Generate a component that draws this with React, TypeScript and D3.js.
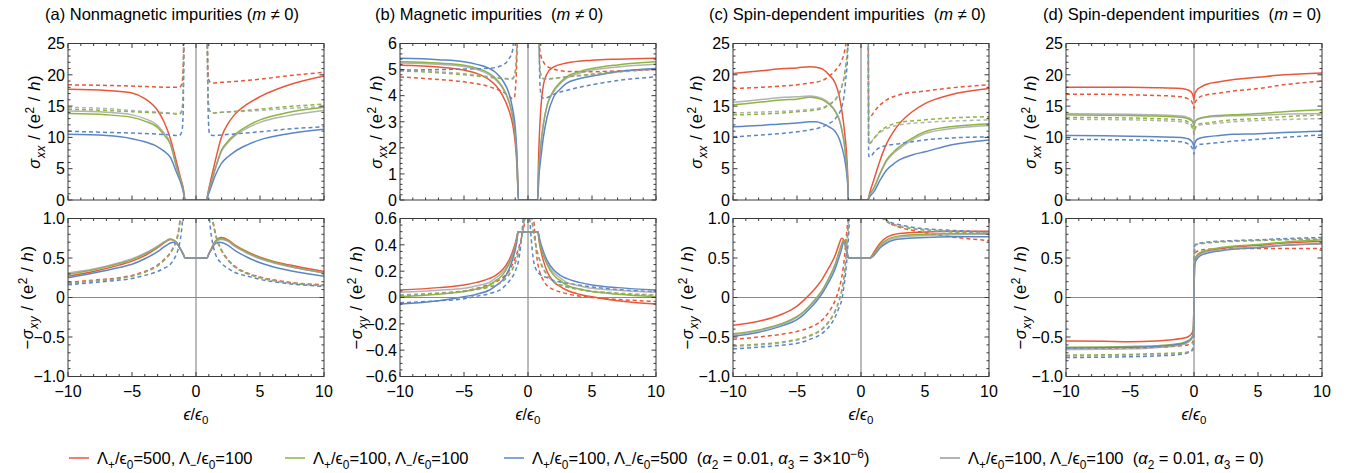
import React from "react";
import * as d3 from "d3";

type Pt = [number, number];

// ---------------- Panel (a): nonmagnetic, sigma_xx ----------------
const A_XX_R: Pt[] = [[-10,17.7],[-7,17.5],[-5,17.1],[-4,16.2],[-3,14.3],[-2.5,12.5],[-2,9.8],[-1.5,5.9],[-1.2,3.5],[-1,1.9],[-0.85,0],[0.8,0],[1,1.8],[1.2,3.6],[1.5,6.2],[2,10.1],[2.5,12.2],[3,13.6],[4,15.3],[5,16.5],[7,18.2],[10,19.8]];
const A_XX_G: Pt[] = [[-10,13.8],[-7,13.6],[-5,13.2],[-4,12.6],[-3,11.6],[-2.5,10.4],[-2,8.9],[-1.5,5.1],[-1.2,3.2],[-1,1.7],[-0.85,0],[0.8,0],[1,1.5],[1.2,2.9],[1.5,5.0],[2,8.0],[2.5,9.4],[3,10.4],[4,11.8],[5,12.8],[7,13.9],[10,14.8]];
const A_XX_B: Pt[] = [[-10,10.5],[-7,10.3],[-5,9.8],[-4,9.3],[-3,8.5],[-2.5,7.8],[-2,6.8],[-1.5,4.3],[-1.2,2.8],[-1,1.4],[-0.85,0],[0.8,0],[1,1.1],[1.2,2.2],[1.5,3.9],[2,5.9],[2.5,6.9],[3,7.7],[4,8.8],[5,9.6],[7,10.5],[10,11.3]];
const A_XX_K: Pt[] = [[-10,14.2],[-7,14.0],[-5,13.6],[-4,13.0],[-3,11.9],[-2.5,10.7],[-2,9.1],[-1.5,5.2],[-1.2,3.2],[-1,1.7],[-0.85,0],[0.8,0],[1,1.5],[1.2,2.9],[1.5,4.9],[2,7.8],[2.5,9.2],[3,10.2],[4,11.5],[5,12.4],[7,13.4],[10,14.3]];
const A_XX_RD: Pt[] = [[-10,18.4],[-7,18.3],[-5,18.2],[-2,18.0],[-1.3,18.0],[-1.1,18.6],[-1.0,21],[-0.93,28],[0.86,28],[0.92,21],[1.0,19.2],[1.2,18.7],[2,18.8],[5,19.3],[7,19.8],[10,20.4]];
const A_XX_GD: Pt[] = [[-10,14.5],[-7,14.3],[-5,14.1],[-2,13.8],[-1.3,13.7],[-1.1,14.3],[-1.0,17],[-0.93,28],[0.86,28],[0.93,17],[1.05,14.3],[1.3,13.9],[2,14.0],[5,14.5],[7,14.9],[10,15.3]];
const A_XX_BD: Pt[] = [[-10,11.0],[-7,10.8],[-5,10.7],[-2,10.4],[-1.3,10.3],[-1.1,11.0],[-1.0,14],[-0.93,28],[0.86,28],[0.95,14],[1.05,10.6],[1.3,10.3],[2,10.4],[5,10.9],[7,11.3],[10,11.7]];
const A_XX_KD: Pt[] = [[-10,14.8],[-7,14.6],[-5,14.3],[-2,13.9],[-1.3,13.8],[-1.1,14.4],[-1.0,17],[-0.93,28],[0.86,28],[0.93,17],[1.05,14.3],[1.3,13.9],[2,14.0],[5,14.3],[7,14.6],[10,14.9]];

// ---------------- Panel (a): sigma_xy ----------------
const A_XY_R: Pt[] = [[-10,0.27],[-8,0.33],[-6,0.41],[-5,0.46],[-4,0.53],[-3,0.63],[-2.5,0.69],[-2,0.735],[-1.7,0.72],[-1.5,0.69],[-1.2,0.61],[-1,0.55],[-0.85,0.5],[0.85,0.5],[1,0.55],[1.2,0.62],[1.5,0.71],[1.8,0.755],[2,0.76],[2.5,0.73],[3,0.67],[4,0.58],[5,0.51],[6,0.46],[8,0.39],[10,0.33]];
const A_XY_G: Pt[] = [[-10,0.29],[-8,0.35],[-6,0.43],[-5,0.48],[-4,0.55],[-3,0.64],[-2.5,0.70],[-2,0.74],[-1.7,0.72],[-1.5,0.69],[-1.2,0.61],[-1,0.55],[-0.85,0.5],[0.85,0.5],[1,0.55],[1.2,0.61],[1.5,0.70],[1.8,0.74],[2,0.745],[2.5,0.72],[3,0.66],[4,0.57],[5,0.50],[6,0.45],[8,0.37],[10,0.31]];
const A_XY_B: Pt[] = [[-10,0.25],[-8,0.31],[-6,0.38],[-5,0.42],[-4,0.49],[-3,0.58],[-2.5,0.64],[-2,0.69],[-1.8,0.70],[-1.5,0.68],[-1.2,0.61],[-1,0.55],[-0.85,0.5],[0.85,0.5],[1,0.55],[1.2,0.61],[1.5,0.68],[1.8,0.70],[2,0.695],[2.5,0.66],[3,0.60],[4,0.51],[5,0.44],[6,0.39],[8,0.32],[10,0.27]];
const A_XY_K: Pt[] = [[-10,0.31],[-8,0.36],[-6,0.44],[-5,0.49],[-4,0.56],[-3,0.65],[-2.5,0.70],[-2,0.74],[-1.7,0.72],[-1.5,0.69],[-1.2,0.61],[-1,0.55],[-0.85,0.5],[0.85,0.5],[1,0.55],[1.2,0.61],[1.5,0.69],[1.8,0.73],[2,0.735],[2.5,0.71],[3,0.65],[4,0.56],[5,0.49],[6,0.44],[8,0.37],[10,0.31]];
const A_XY_RD: Pt[] = [[-10,0.19],[-8,0.22],[-6,0.25],[-5,0.28],[-4,0.33],[-3,0.41],[-2.5,0.48],[-2,0.57],[-1.7,0.66],[-1.5,0.74],[-1.35,0.86],[-1.2,1.05],[-1.1,1.2],[1.1,1.2],[1.25,1.03],[1.4,0.9],[1.6,0.76],[2,0.6],[2.5,0.48],[3,0.40],[4,0.31],[5,0.26],[7,0.2],[10,0.16]];
const A_XY_GD: Pt[] = [[-10,0.18],[-8,0.21],[-6,0.24],[-5,0.27],[-4,0.32],[-3,0.40],[-2.5,0.47],[-2,0.56],[-1.7,0.65],[-1.5,0.73],[-1.35,0.85],[-1.2,1.04],[-1.1,1.2],[1.1,1.2],[1.25,1.02],[1.4,0.89],[1.6,0.75],[2,0.59],[2.5,0.47],[3,0.39],[4,0.30],[5,0.25],[7,0.19],[10,0.15]];
const A_XY_BD: Pt[] = [[-10,0.16],[-8,0.19],[-6,0.22],[-5,0.24],[-4,0.28],[-3,0.33],[-2.5,0.37],[-2,0.42],[-1.7,0.49],[-1.5,0.56],[-1.3,0.67],[-1.15,0.82],[-1.05,0.98],[-0.95,1.2],[0.95,1.2],[1.05,1.0],[1.15,0.84],[1.3,0.69],[1.5,0.56],[2,0.43],[2.5,0.37],[3,0.32],[4,0.27],[5,0.23],[7,0.18],[10,0.14]];
const A_XY_KD: Pt[] = [[-10,0.18],[-8,0.21],[-6,0.245],[-5,0.275],[-4,0.325],[-3,0.405],[-2.5,0.475],[-2,0.565],[-1.7,0.655],[-1.5,0.735],[-1.35,0.855],[-1.2,1.045],[-1.1,1.2],[1.1,1.2],[1.25,1.025],[1.4,0.895],[1.6,0.755],[2,0.595],[2.5,0.475],[3,0.395],[4,0.305],[5,0.255],[7,0.195],[10,0.155]];

// ---------------- Panel (b): magnetic, sigma_xx ----------------
const B_XX_R: Pt[] = [[-10,5.17],[-7,5.1],[-5,4.98],[-4,4.85],[-3,4.6],[-2.5,4.38],[-2,4.02],[-1.5,3.45],[-1.2,2.9],[-1,2.2],[-0.85,1.2],[-0.75,0],[0.75,0],[0.82,1.5],[0.9,2.6],[1.0,3.5],[1.2,4.4],[1.5,4.85],[2,5.1],[3,5.25],[5,5.36],[7,5.4],[10,5.43]];
const B_XX_G: Pt[] = [[-10,5.3],[-7,5.25],[-5,5.17],[-4,5.05],[-3,4.85],[-2.5,4.65],[-2,4.34],[-1.5,3.8],[-1.2,3.2],[-1,2.5],[-0.85,1.4],[-0.75,0],[0.75,0],[0.85,1.2],[1,2.1],[1.2,2.9],[1.5,3.65],[2,4.2],[2.5,4.5],[3,4.72],[4,4.92],[5,5.04],[7,5.18],[10,5.3]];
const B_XX_B: Pt[] = [[-10,5.43],[-7,5.38],[-5,5.3],[-4,5.2],[-3,5.04],[-2.5,4.88],[-2,4.6],[-1.5,4.1],[-1.2,3.5],[-1,2.8],[-0.85,1.6],[-0.75,0],[0.75,0],[0.85,0.9],[1,1.6],[1.2,2.4],[1.5,3.2],[2,3.95],[2.5,4.25],[3,4.47],[4,4.65],[5,4.75],[7,4.92],[10,5.04]];
const B_XX_K: Pt[] = [[-10,5.25],[-7,5.2],[-5,5.12],[-4,5.0],[-3,4.8],[-2.5,4.6],[-2,4.3],[-1.5,3.78],[-1.2,3.2],[-1,2.5],[-0.85,1.4],[-0.75,0],[0.75,0],[0.85,1.2],[1,2.1],[1.2,2.9],[1.5,3.62],[2,4.15],[2.5,4.45],[3,4.66],[4,4.86],[5,4.98],[7,5.1],[10,5.2]];
const B_XX_RD: Pt[] = [[-10,4.72],[-7,4.62],[-5,4.53],[-3,4.34],[-2,4.15],[-1.5,4.0],[-1.2,3.88],[-1.05,3.95],[-0.95,4.5],[-0.87,5.4],[-0.8,6.5],[0.82,6.5],[0.9,5.85],[1.0,5.55],[1.2,5.3],[1.5,5.12],[2,5.02],[3,4.93],[5,4.92],[7,4.95],[10,5.0]];
const B_XX_GD: Pt[] = [[-10,4.95],[-7,4.88],[-5,4.8],[-3,4.7],[-2,4.66],[-1.5,4.63],[-1.2,4.65],[-1.0,4.9],[-0.9,5.5],[-0.83,6.5],[0.83,6.5],[0.9,5.3],[1.0,4.8],[1.2,4.65],[1.5,4.64],[2,4.66],[3,4.72],[5,4.83],[7,4.93],[10,5.03]];
const B_XX_BD: Pt[] = [[-10,4.98],[-7,5.0],[-5,5.02],[-3,5.05],[-2,5.17],[-1.5,5.4],[-1.2,5.75],[-1.05,6.5],[0.85,6.5],[0.9,5.0],[0.97,4.2],[1.1,3.92],[1.3,3.9],[1.6,3.95],[2,4.05],[3,4.2],[5,4.42],[7,4.58],[10,4.72]];
const B_XX_KD: Pt[] = [[-10,5.0],[-7,4.92],[-5,4.84],[-3,4.73],[-2,4.68],[-1.5,4.65],[-1.2,4.67],[-1.0,4.92],[-0.9,5.5],[-0.83,6.5],[0.83,6.5],[0.9,5.3],[1.0,4.8],[1.2,4.66],[1.5,4.65],[2,4.67],[3,4.72],[5,4.8],[7,4.9],[10,5.0]];

// ---------------- Panel (b): sigma_xy ----------------
const B_XY_R: Pt[] = [[-10,0.057],[-7,0.075],[-5,0.095],[-4,0.115],[-3,0.145],[-2.5,0.17],[-2,0.21],[-1.5,0.28],[-1.2,0.35],[-1,0.41],[-0.85,0.47],[-0.78,0.5],[0.78,0.5],[0.85,0.44],[1,0.36],[1.2,0.28],[1.5,0.196],[2,0.12],[2.5,0.085],[3,0.057],[4,0.025],[5,0.006],[7,-0.025],[10,-0.05]];
const B_XY_G: Pt[] = [[-10,0.006],[-7,0.025],[-5,0.045],[-4,0.065],[-3,0.095],[-2.5,0.13],[-2,0.17],[-1.5,0.25],[-1.2,0.32],[-1,0.385],[-0.85,0.45],[-0.78,0.5],[0.78,0.5],[0.85,0.45],[1,0.385],[1.2,0.32],[1.5,0.25],[2,0.17],[2.5,0.13],[3,0.095],[4,0.065],[5,0.045],[7,0.025],[10,0.006]];
const B_XY_B: Pt[] = [[-10,-0.05],[-7,-0.025],[-5,0.006],[-4,0.025],[-3,0.057],[-2.5,0.09],[-2,0.13],[-1.5,0.21],[-1.2,0.29],[-1,0.36],[-0.85,0.44],[-0.78,0.5],[0.78,0.5],[0.85,0.47],[1,0.41],[1.2,0.35],[1.5,0.28],[2,0.21],[2.5,0.17],[3,0.145],[4,0.115],[5,0.095],[7,0.075],[10,0.057]];
const B_XY_K: Pt[] = [[-10,0.04],[-7,0.055],[-5,0.07],[-4,0.09],[-3,0.115],[-2.5,0.15],[-2,0.19],[-1.5,0.26],[-1.2,0.33],[-1,0.39],[-0.85,0.46],[-0.78,0.5],[0.78,0.5],[0.85,0.46],[1,0.39],[1.2,0.33],[1.5,0.26],[2,0.19],[2.5,0.15],[3,0.115],[4,0.09],[5,0.07],[7,0.055],[10,0.04]];
const B_XY_RD: Pt[] = [[-10,0.01],[-7,0.03],[-5,0.05],[-4,0.07],[-3,0.1],[-2,0.15],[-1.5,0.2],[-1,0.3],[-0.6,0.42],[-0.3,0.55],[-0.1,0.68],[0.3,0.7],[0.45,0.6],[0.55,0.46],[0.7,0.3],[0.9,0.2],[1.2,0.13],[1.5,0.09],[2,0.06],[3,0.03],[5,0.0],[7,-0.015],[10,-0.03]];
const B_XY_GD: Pt[] = [[-10,0.015],[-7,0.03],[-5,0.045],[-4,0.06],[-3,0.08],[-2,0.12],[-1.5,0.17],[-1,0.26],[-0.6,0.4],[-0.35,0.55],[-0.2,0.68],[0.2,0.68],[0.35,0.55],[0.6,0.4],[1,0.26],[1.5,0.17],[2,0.12],[3,0.08],[4,0.06],[5,0.045],[7,0.03],[10,0.015]];
const B_XY_BD: Pt[] = [[-10,-0.04],[-7,-0.025],[-5,-0.01],[-4,0.01],[-3,0.03],[-2,0.07],[-1.5,0.12],[-1,0.2],[-0.7,0.3],[-0.5,0.46],[-0.38,0.6],[-0.3,0.7],[0.05,0.7],[0.15,0.58],[0.25,0.45],[0.4,0.3],[0.6,0.22],[1,0.17],[1.5,0.15],[2,0.13],[3,0.11],[5,0.08],[7,0.06],[10,0.045]];
const B_XY_KD: Pt[] = [[-10,0.02],[-7,0.035],[-5,0.05],[-4,0.065],[-3,0.085],[-2,0.125],[-1.5,0.175],[-1,0.265],[-0.6,0.405],[-0.35,0.555],[-0.2,0.68],[0.2,0.68],[0.35,0.555],[0.6,0.405],[1,0.265],[1.5,0.175],[2,0.125],[3,0.085],[4,0.065],[5,0.05],[7,0.035],[10,0.02]];

// ---------------- Panel (c): spin-dependent m != 0, sigma_xx ----------------
const C_XX_R: Pt[] = [[-10,20.2],[-8,20.6],[-6,21.0],[-5,21.1],[-4,21.3],[-3.5,21.2],[-3,20.9],[-2.5,20.0],[-2,18.6],[-1.7,16.6],[-1.5,14.3],[-1.3,11.2],[-1.15,8.0],[-1.05,4.5],[-0.98,0],[0.52,0],[0.7,1.3],[1,3.2],[1.5,6.4],[2,9.0],[2.5,10.8],[3,12.2],[4,14.1],[5,15.4],[7,16.8],[10,17.8]];
const C_XX_G: Pt[] = [[-10,15.2],[-8,15.6],[-6,16.0],[-5,16.1],[-4,16.4],[-3.5,16.3],[-3,16.0],[-2.5,15.3],[-2,14.1],[-1.7,12.8],[-1.5,11.2],[-1.3,8.9],[-1.15,6.2],[-1.05,3.5],[-0.98,0],[0.52,0],[0.7,0.9],[1,1.9],[1.5,4.3],[2,6.4],[2.5,7.6],[3,8.5],[4,9.9],[5,10.9],[7,11.7],[10,12.2]];
const C_XX_B: Pt[] = [[-10,11.7],[-8,11.9],[-6,12.2],[-5,12.3],[-4,12.5],[-3.5,12.5],[-3,12.2],[-2.5,11.7],[-2,10.9],[-1.7,9.8],[-1.5,8.5],[-1.3,6.8],[-1.15,4.8],[-1.05,2.8],[-0.98,0],[0.52,0],[0.7,0.6],[1,1.3],[1.5,3.2],[2,4.8],[2.5,5.7],[3,6.4],[4,7.2],[5,7.7],[7,8.8],[10,9.6]];
const C_XX_K: Pt[] = [[-10,15.6],[-8,16.0],[-6,16.4],[-5,16.5],[-4,16.6],[-3.5,16.5],[-3,16.2],[-2.5,15.5],[-2,14.2],[-1.7,12.9],[-1.5,11.3],[-1.3,9.0],[-1.15,6.2],[-1.05,3.5],[-0.98,0],[0.52,0],[0.7,0.9],[1,1.9],[1.5,4.2],[2,6.2],[2.5,7.4],[3,8.2],[4,9.6],[5,10.6],[7,11.4],[10,11.9]];
const C_XX_RD: Pt[] = [[-10,17.8],[-7,18.1],[-5,18.4],[-4,18.7],[-3,19.1],[-2.5,19.8],[-2,20.7],[-1.5,22.3],[-1.3,23.6],[-1.15,25.5],[-1.05,28],[0.56,28],[0.6,13.0],[0.8,13.4],[1,14.0],[1.5,15.2],[2,16.0],[3,16.8],[5,17.4],[7,17.9],[10,18.4]];
const C_XX_GD: Pt[] = [[-10,13.6],[-7,13.8],[-5,14.1],[-3,14.6],[-2.5,15.2],[-2,16.0],[-1.5,18.1],[-1.3,19.8],[-1.2,21.3],[-1.05,24.5],[-1.0,28],[0.56,28],[0.6,9.0],[0.8,9.2],[1,9.8],[1.5,11.0],[2,11.7],[3,12.4],[5,12.8],[7,13.1],[10,13.3]];
const C_XX_BD: Pt[] = [[-10,10.1],[-7,10.5],[-5,10.9],[-3,11.7],[-2.5,12.2],[-2,13.0],[-1.5,14.9],[-1.3,17],[-1.2,19.1],[-1.05,23],[-0.98,28],[0.56,28],[0.6,7.0],[0.75,6.9],[1,7.6],[1.5,8.4],[2,8.7],[3,9.0],[5,9.6],[7,9.9],[10,10.1]];
const C_XX_KD: Pt[] = [[-10,13.9],[-7,14.1],[-5,14.3],[-3,14.8],[-2.5,15.3],[-2,16.1],[-1.5,18.2],[-1.3,19.9],[-1.2,21.4],[-1.05,24.6],[-1.0,28],[0.56,28],[0.6,9.1],[0.8,9.3],[1,9.8],[1.5,10.8],[2,11.4],[3,12.0],[5,12.4],[7,12.6],[10,12.8]];

// ---------------- Panel (c): sigma_xy ----------------
const C_XY_R: Pt[] = [[-10,-0.35],[-8,-0.3],[-7,-0.26],[-6,-0.2],[-5,-0.11],[-4.5,-0.04],[-4,0.04],[-3.5,0.13],[-3,0.24],[-2.5,0.38],[-2,0.54],[-1.75,0.66],[-1.5,0.75],[-1.35,0.73],[-1.2,0.65],[-1.05,0.53],[-0.98,0.5],[0.7,0.5],[0.85,0.53],[1,0.57],[1.5,0.69],[2,0.76],[3,0.81],[5,0.83],[7,0.84],[10,0.84]];
const C_XY_G: Pt[] = [[-10,-0.46],[-8,-0.41],[-7,-0.37],[-6,-0.32],[-5,-0.24],[-4.5,-0.18],[-4,-0.1],[-3.5,-0.01],[-3,0.1],[-2.5,0.25],[-2,0.43],[-1.75,0.56],[-1.5,0.68],[-1.4,0.72],[-1.25,0.68],[-1.1,0.57],[-0.98,0.5],[0.7,0.5],[0.85,0.52],[1,0.55],[1.5,0.66],[2,0.73],[3,0.78],[5,0.8],[7,0.81],[10,0.81]];
const C_XY_B: Pt[] = [[-10,-0.49],[-8,-0.44],[-7,-0.4],[-6,-0.35],[-5,-0.28],[-4.5,-0.22],[-4,-0.14],[-3.5,-0.05],[-3,0.06],[-2.5,0.2],[-2,0.37],[-1.75,0.49],[-1.5,0.62],[-1.35,0.7],[-1.2,0.67],[-1.07,0.56],[-0.98,0.5],[0.7,0.5],[0.85,0.51],[1,0.53],[1.5,0.63],[2,0.69],[3,0.74],[5,0.76],[7,0.77],[10,0.77]];
const C_XY_K: Pt[] = [[-10,-0.47],[-8,-0.42],[-7,-0.38],[-6,-0.33],[-5,-0.25],[-4.5,-0.19],[-4,-0.11],[-3.5,-0.02],[-3,0.09],[-2.5,0.24],[-2,0.42],[-1.75,0.54],[-1.5,0.67],[-1.38,0.71],[-1.22,0.67],[-1.08,0.56],[-0.98,0.5],[0.7,0.5],[0.85,0.515],[1,0.54],[1.5,0.645],[2,0.71],[3,0.765],[5,0.785],[7,0.795],[10,0.8]];
const C_XY_RD: Pt[] = [[-10,-0.53],[-8,-0.5],[-6,-0.46],[-5,-0.43],[-4,-0.38],[-3,-0.28],[-2.5,-0.18],[-2,-0.03],[-1.7,0.12],[-1.5,0.26],[-1.3,0.5],[-1.2,0.68],[-1.1,0.85],[-1.0,1.05],[-0.95,1.2],[1.7,1.2],[1.9,1.0],[2.2,0.95],[3,0.89],[4,0.85],[5,0.82],[7,0.77],[10,0.72]];
const C_XY_GD: Pt[] = [[-10,-0.61],[-8,-0.59],[-6,-0.56],[-5,-0.53],[-4,-0.48],[-3,-0.39],[-2.5,-0.3],[-2,-0.16],[-1.7,-0.03],[-1.5,0.09],[-1.3,0.3],[-1.2,0.47],[-1.05,0.8],[-0.95,1.05],[-0.9,1.2],[1.2,1.2],[1.5,1.05],[2,0.96],[3,0.9],[4,0.87],[5,0.85],[7,0.83],[10,0.81]];
const C_XY_BD: Pt[] = [[-10,-0.65],[-8,-0.63],[-6,-0.6],[-5,-0.58],[-4,-0.53],[-3,-0.45],[-2.5,-0.37],[-2,-0.24],[-1.7,-0.12],[-1.5,-0.03],[-1.3,0.18],[-1.2,0.31],[-1.05,0.6],[-0.95,0.85],[-0.85,1.2],[1.2,1.2],[1.5,1.06],[2,0.98],[3,0.92],[4,0.89],[5,0.87],[7,0.85],[10,0.83]];
const C_XY_KD: Pt[] = [[-10,-0.62],[-8,-0.6],[-6,-0.57],[-5,-0.54],[-4,-0.49],[-3,-0.4],[-2.5,-0.31],[-2,-0.17],[-1.7,-0.04],[-1.5,0.08],[-1.3,0.29],[-1.2,0.46],[-1.05,0.79],[-0.95,1.04],[-0.9,1.2],[1.2,1.2],[1.5,1.05],[2,0.97],[3,0.91],[4,0.88],[5,0.86],[7,0.84],[10,0.82]];

// ---------------- Panel (d): spin-dependent m = 0, sigma_xx ----------------
const D_XX_R: Pt[] = [[-10,18.0],[-7,18.0],[-5,18.0],[-3,17.95],[-1,17.8],[-0.5,17.6],[-0.2,17.2],[-0.05,16.5],[0,16.0],[0.05,16.8],[0.2,17.5],[0.5,18.0],[1,18.5],[2,18.9],[3,19.2],[5,19.6],[7,20.0],[10,20.3]];
const D_XX_G: Pt[] = [[-10,13.6],[-7,13.55],[-5,13.5],[-3,13.4],[-1,13.2],[-0.5,13.0],[-0.2,12.7],[-0.05,12.2],[0,11.8],[0.05,12.3],[0.2,12.8],[0.5,13.1],[1,13.3],[2,13.5],[3,13.6],[5,13.8],[7,14.1],[10,14.4]];
const D_XX_B: Pt[] = [[-10,10.3],[-7,10.25],[-5,10.2],[-3,10.1],[-1,10.0],[-0.5,9.8],[-0.2,9.4],[-0.05,8.8],[0,8.3],[0.05,9.0],[0.2,9.6],[0.5,9.9],[1,10.1],[2,10.3],[3,10.5],[5,10.6],[7,10.8],[10,11.0]];
const D_XX_K: Pt[] = [[-10,13.8],[-7,13.75],[-5,13.7],[-3,13.6],[-1,13.4],[-0.5,13.2],[-0.2,12.9],[-0.05,12.4],[0,12.0],[0.05,12.4],[0.2,12.8],[0.5,13.0],[1,13.2],[2,13.35],[3,13.45],[5,13.55],[7,13.7],[10,13.8]];
const D_XX_RD: Pt[] = [[-10,16.9],[-7,16.9],[-5,16.8],[-3,16.7],[-1,16.5],[-0.5,16.2],[-0.2,15.8],[-0.05,15.0],[0,14.6],[0.05,15.4],[0.2,16.0],[0.5,16.5],[1,16.8],[2,17.1],[3,17.4],[5,17.8],[7,18.4],[10,19.0]];
const D_XX_GD: Pt[] = [[-10,13.2],[-7,13.15],[-5,13.1],[-3,13.0],[-1,12.8],[-0.5,12.5],[-0.2,12.0],[-0.05,11.2],[0,10.6],[0.05,11.3],[0.2,11.9],[0.5,12.2],[1,12.3],[2,12.6],[3,12.8],[5,13.0],[7,13.3],[10,13.6]];
const D_XX_BD: Pt[] = [[-10,9.7],[-7,9.65],[-5,9.6],[-3,9.5],[-1,9.3],[-0.5,9.0],[-0.2,8.5],[-0.05,7.8],[0,7.3],[0.05,8.0],[0.2,8.6],[0.5,8.9],[1,9.0],[2,9.2],[3,9.4],[5,9.7],[7,10.0],[10,10.4]];
const D_XX_KD: Pt[] = [[-10,12.9],[-7,12.85],[-5,12.8],[-3,12.7],[-1,12.5],[-0.5,12.2],[-0.2,11.7],[-0.05,11.0],[0,10.4],[0.05,11.1],[0.2,11.7],[0.5,12.0],[1,12.1],[2,12.3],[3,12.5],[5,12.7],[7,12.85],[10,13.0]];

// ---------------- Panel (d): sigma_xy ----------------
const D_XY_R: Pt[] = [[-10,-0.55],[-7,-0.555],[-5,-0.56],[-3,-0.55],[-1,-0.52],[-0.5,-0.5],[-0.2,-0.46],[-0.05,-0.4],[0,0],[0.05,0.45],[0.2,0.52],[0.5,0.56],[1,0.59],[2,0.62],[3,0.64],[5,0.66],[7,0.69],[10,0.71]];
const D_XY_G: Pt[] = [[-10,-0.63],[-7,-0.625],[-5,-0.62],[-3,-0.61],[-1,-0.58],[-0.5,-0.55],[-0.2,-0.51],[-0.05,-0.45],[0,0],[0.05,0.47],[0.2,0.53],[0.5,0.57],[1,0.6],[2,0.63],[3,0.65],[5,0.67],[7,0.7],[10,0.73]];
const D_XY_B: Pt[] = [[-10,-0.64],[-7,-0.635],[-5,-0.63],[-3,-0.62],[-1,-0.59],[-0.5,-0.56],[-0.2,-0.52],[-0.05,-0.46],[0,0],[0.05,0.42],[0.2,0.48],[0.5,0.53],[1,0.56],[2,0.59],[3,0.61],[5,0.63],[7,0.66],[10,0.68]];
const D_XY_K: Pt[] = [[-10,-0.66],[-7,-0.655],[-5,-0.65],[-3,-0.635],[-1,-0.6],[-0.5,-0.57],[-0.2,-0.53],[-0.05,-0.47],[0,0],[0.05,0.45],[0.2,0.51],[0.5,0.55],[1,0.58],[2,0.6],[3,0.62],[5,0.64],[7,0.66],[10,0.68]];
const D_XY_RD: Pt[] = [[-10,-0.64],[-7,-0.64],[-5,-0.64],[-3,-0.63],[-1,-0.61],[-0.5,-0.6],[-0.2,-0.58],[-0.05,-0.55],[0,0],[0.05,0.56],[0.2,0.58],[0.5,0.6],[1,0.61],[3,0.62],[5,0.62],[7,0.62],[10,0.62]];
const D_XY_GD: Pt[] = [[-10,-0.73],[-7,-0.725],[-5,-0.72],[-3,-0.71],[-1,-0.7],[-0.5,-0.69],[-0.2,-0.67],[-0.05,-0.63],[0,0],[0.05,0.65],[0.2,0.67],[0.5,0.68],[1,0.69],[3,0.71],[5,0.72],[7,0.73],[10,0.74]];
const D_XY_BD: Pt[] = [[-10,-0.76],[-7,-0.755],[-5,-0.75],[-3,-0.74],[-1,-0.72],[-0.5,-0.7],[-0.2,-0.68],[-0.05,-0.65],[0,0],[0.05,0.66],[0.2,0.68],[0.5,0.69],[1,0.7],[3,0.72],[5,0.73],[7,0.745],[10,0.76]];
const D_XY_KD: Pt[] = [[-10,-0.74],[-7,-0.735],[-5,-0.73],[-3,-0.72],[-1,-0.71],[-0.5,-0.695],[-0.2,-0.675],[-0.05,-0.64],[0,0],[0.05,0.655],[0.2,0.675],[0.5,0.685],[1,0.695],[3,0.715],[5,0.725],[7,0.735],[10,0.75]];

// ---------------- axes / labels ----------------
const X_MAJOR = [-10, -5, 0, 5, 10];
const X_LABELS = ["−10", "−5", "0", "5", "10"];
const XX_MAJOR_25 = [0, 5, 10, 15, 20, 25];
const XX_LABELS_25 = ["0", "5", "10", "15", "20", "25"];
const XX_MAJOR_6 = [0, 1, 2, 3, 4, 5, 6];
const XX_LABELS_6 = ["0", "1", "2", "3", "4", "5", "6"];
const XY_MAJOR_1 = [-1, -0.5, 0, 0.5, 1];
const XY_LABELS_1 = ["−1.0", "−0.5", "0", "0.5", "1.0"];
const XY_MAJOR_06 = [-0.6, -0.4, -0.2, 0, 0.2, 0.4, 0.6];
const XY_LABELS_06 = ["−0.6", "−0.4", "−0.2", "0", "0.2", "0.4", "0.6"];

const PANEL_TITLES = [
  { pre: "(a) Nonmagnetic impurities (", op: " ≠ 0)" },
  { pre: "(b) Magnetic impurities  (", op: " ≠ 0)" },
  { pre: "(c) Spin-dependent impurities  (", op: " ≠ 0)" },
  { pre: "(d) Spin-dependent impurities  (", op: " = 0)" },
];

const LEGEND_LP = ["500", "100", "100", "100"];
const LEGEND_LM = ["100", "100", "500", "100"];
const LEGEND_A3 = ["", "", "3×10", "0"];

const COLORS = ["#E9573A", "#8DB63C", "#5B86C6", "#9A9A9A"];
const FONT = "'Liberation Sans', Arial, Helvetica, sans-serif";

type Series = { c: number; dashed: boolean; data: Pt[] };
const mk = (r: Pt[], g: Pt[], b: Pt[], k: Pt[], rd: Pt[], gd: Pt[], bd: Pt[], kd: Pt[]): Series[] => [
  { c: 0, dashed: false, data: r }, { c: 0, dashed: true, data: rd },
  { c: 1, dashed: false, data: g }, { c: 1, dashed: true, data: gd },
  { c: 2, dashed: false, data: b }, { c: 2, dashed: true, data: bd },
  { c: 3, dashed: false, data: k }, { c: 3, dashed: true, data: kd },
];

const PANELS = [
  {
    top: { dom: [0, 25], major: XX_MAJOR_25, labels: XX_LABELS_25, minor: 1, series: mk(A_XX_R, A_XX_G, A_XX_B, A_XX_K, A_XX_RD, A_XX_GD, A_XX_BD, A_XX_KD) },
    bot: { dom: [-1, 1], major: XY_MAJOR_1, labels: XY_LABELS_1, minor: 0.1, series: mk(A_XY_R, A_XY_G, A_XY_B, A_XY_K, A_XY_RD, A_XY_GD, A_XY_BD, A_XY_KD) },
  },
  {
    top: { dom: [0, 6], major: XX_MAJOR_6, labels: XX_LABELS_6, minor: 0.2, series: mk(B_XX_R, B_XX_G, B_XX_B, B_XX_K, B_XX_RD, B_XX_GD, B_XX_BD, B_XX_KD) },
    bot: { dom: [-0.6, 0.6], major: XY_MAJOR_06, labels: XY_LABELS_06, minor: 0.05, series: mk(B_XY_R, B_XY_G, B_XY_B, B_XY_K, B_XY_RD, B_XY_GD, B_XY_BD, B_XY_KD) },
  },
  {
    top: { dom: [0, 25], major: XX_MAJOR_25, labels: XX_LABELS_25, minor: 1, series: mk(C_XX_R, C_XX_G, C_XX_B, C_XX_K, C_XX_RD, C_XX_GD, C_XX_BD, C_XX_KD) },
    bot: { dom: [-1, 1], major: XY_MAJOR_1, labels: XY_LABELS_1, minor: 0.1, series: mk(C_XY_R, C_XY_G, C_XY_B, C_XY_K, C_XY_RD, C_XY_GD, C_XY_BD, C_XY_KD) },
  },
  {
    top: { dom: [0, 25], major: XX_MAJOR_25, labels: XX_LABELS_25, minor: 1, series: mk(D_XX_R, D_XX_G, D_XX_B, D_XX_K, D_XX_RD, D_XX_GD, D_XX_BD, D_XX_KD) },
    bot: { dom: [-1, 1], major: XY_MAJOR_1, labels: XY_LABELS_1, minor: 0.1, series: mk(D_XY_R, D_XY_G, D_XY_B, D_XY_K, D_XY_RD, D_XY_GD, D_XY_BD, D_XY_KD) },
  },
];

// layout
const LEFTS = [68, 400, 733, 1066];
const PW = 256;
const TOP_Y = [43.5, 200];
const BOT_Y = [218.5, 376.5];
const TOP_LABEL_OFF = [33, 23, 36, 35];
const BOT_LABEL_OFF = [40, 43, 45, 45];
const TITLE_X = [45, 375, 709, 1043];
const LEGEND_X = [69, 285, 504, 940];

type Seg = { t: string; sub?: boolean; sup?: boolean; it?: boolean };

function Rich({ segs, fs, ...rest }: { segs: Seg[]; fs: number; [k: string]: any }) {
  let cur = 0;
  return (
    <text fontSize={fs} fontFamily={FONT} fill="#000" style={{ whiteSpace: "pre" }} {...rest}>
      {segs.map((s, i) => {
        const target = s.sub ? fs * 0.28 : s.sup ? -fs * 0.38 : 0;
        const dy = target - cur;
        cur = target;
        return (
          <tspan key={i} dy={dy} fontSize={s.sub || s.sup ? fs * 0.72 : fs} fontStyle={s.it ? "italic" : "normal"}>
            {s.t}
          </tspan>
        );
      })}
    </text>
  );
}

function SubPlot({ id, left, y0, y1, spec, showX, labelOff, isTop }: any) {
  const xs = d3.scaleLinear().domain([-10, 10]).range([left, left + PW]);
  const ys = d3.scaleLinear().domain(spec.dom).range([y1, y0]);
  const line = d3.line<Pt>().x((d) => xs(d[0])).y((d) => ys(d[1])).curve(d3.curveMonotoneX);
  const xMinor = d3.range(-10, 10.0001, 1).filter((v) => !X_MAJOR.includes(v));
  const step = spec.minor;
  const n = Math.round((spec.dom[1] - spec.dom[0]) / step);
  const yMinor = d3.range(0, n + 1).map((i) => spec.dom[0] + i * step).filter((v) => !spec.major.some((m: number) => Math.abs(m - v) < 1e-9));
  const frame = "#3a3a3a";
  const MJ = 4.5, MN = 2.5;
  const right = left + PW;
  const cy = (y0 + y1) / 2;
  const labelX = left - labelOff + 5;
  const segs: Seg[] = isTop
    ? [{ t: "σ", it: true }, { t: "xx", sub: true, it: true }, { t: " / (e" }, { t: "2", sup: true }, { t: " / " }, { t: "h", it: true }, { t: ")" }]
    : [{ t: "−" }, { t: "σ", it: true }, { t: "xy", sub: true, it: true }, { t: " / (e" }, { t: "2", sup: true }, { t: " / " }, { t: "h", it: true }, { t: ")" }];
  return (
    <g>
      <defs>
        <clipPath id={id}>
          <rect x={left} y={y0} width={PW} height={y1 - y0} />
        </clipPath>
      </defs>
      <line x1={xs(0)} x2={xs(0)} y1={y0} y2={y1} stroke="#777" strokeWidth={1} />
      {spec.dom[0] < 0 && <line x1={left} x2={right} y1={ys(0)} y2={ys(0)} stroke="#8a8a8a" strokeWidth={1} />}
      <g clipPath={`url(#${id})`}>
        {spec.series.map((s: Series, i: number) => (
          <path
            key={i}
            d={line(s.data) || ""}
            fill="none"
            stroke={COLORS[s.c]}
            strokeWidth={1.5}
            strokeDasharray={s.dashed ? "4,3" : undefined}
            strokeOpacity={s.c === 3 ? 0.75 : 1}
          />
        ))}
      </g>
      <rect x={left} y={y0} width={PW} height={y1 - y0} fill="none" stroke={frame} strokeWidth={1} />
      {X_MAJOR.map((v) => (
        <g key={"xm" + v}>
          <line x1={xs(v)} x2={xs(v)} y1={y1} y2={y1 - MJ} stroke={frame} />
          <line x1={xs(v)} x2={xs(v)} y1={y0} y2={y0 + MJ} stroke={frame} />
        </g>
      ))}
      {xMinor.map((v) => (
        <g key={"xn" + v}>
          <line x1={xs(v)} x2={xs(v)} y1={y1} y2={y1 - MN} stroke={frame} />
          <line x1={xs(v)} x2={xs(v)} y1={y0} y2={y0 + MN} stroke={frame} />
        </g>
      ))}
      {spec.major.map((v: number) => (
        <g key={"ym" + v}>
          <line x1={left} x2={left + MJ} y1={ys(v)} y2={ys(v)} stroke={frame} />
          <line x1={right} x2={right - MJ} y1={ys(v)} y2={ys(v)} stroke={frame} />
        </g>
      ))}
      {yMinor.map((v: number, i: number) => (
        <g key={"yn" + i}>
          <line x1={left} x2={left + MN} y1={ys(v)} y2={ys(v)} stroke={frame} />
          <line x1={right} x2={right - MN} y1={ys(v)} y2={ys(v)} stroke={frame} />
        </g>
      ))}
      {spec.major.map((v: number, i: number) => (
        <text key={"yl" + v} x={left - 3} y={ys(v)} dy="0.36em" textAnchor="end" fontSize={16} fontFamily={FONT} fill="#000">
          {spec.labels[i]}
        </text>
      ))}
      {showX &&
        X_MAJOR.map((v, i) => (
          <text key={"xl" + v} x={xs(v)} y={y1 + 20.5} textAnchor="middle" fontSize={16} fontFamily={FONT} fill="#000">
            {X_LABELS[i]}
          </text>
        ))}
      <Rich
        segs={segs}
        fs={16.5}
        letterSpacing={0.6}
        textAnchor="middle"
        transform={`translate(${labelX},${cy}) rotate(-90)`}
      />
    </g>
  );
}

const legendSegs = (i: number): Seg[] => {
  const base: Seg[] = [
    { t: "Λ" }, { t: "+", sub: true }, { t: "/ϵ" }, { t: "0", sub: true }, { t: "=" + LEGEND_LP[i] + ", Λ" },
    { t: "−", sub: true }, { t: "/ϵ" }, { t: "0", sub: true }, { t: "=" + LEGEND_LM[i] },
  ];
  if (!LEGEND_A3[i]) return base;
  const tail: Seg[] = i === 2 ? [{ t: " = " + LEGEND_A3[i] }, { t: "−6", sup: true }, { t: ")" }] : [{ t: " = " + LEGEND_A3[i] + ")" }];
  return [
    ...base,
    { t: "  (" }, { t: "α", it: true }, { t: "2", sub: true }, { t: " = 0.01, " }, { t: "α", it: true }, { t: "3", sub: true }, ...tail,
  ];
};

export default function App() {
  return (
    <svg width={1354} height={473} style={{ position: "absolute", left: 0, top: 0, background: "#fff" }}>
      <rect x={0} y={0} width={1354} height={473} fill="#fff" />
      {PANELS.map((p, i) => (
        <g key={i}>
          <Rich
            segs={[{ t: PANEL_TITLES[i].pre }, { t: "m", it: true }, { t: PANEL_TITLES[i].op }]}
            fs={16.5}
            x={TITLE_X[i]}
            y={20}
          />
          <SubPlot id={`ct${i}`} left={LEFTS[i]} y0={TOP_Y[0]} y1={TOP_Y[1]} spec={p.top} showX={false} labelOff={TOP_LABEL_OFF[i]} isTop={true} />
          <SubPlot id={`cb${i}`} left={LEFTS[i]} y0={BOT_Y[0]} y1={BOT_Y[1]} spec={p.bot} showX={true} labelOff={BOT_LABEL_OFF[i]} isTop={false} />
          <Rich
            segs={[{ t: "ϵ", it: true }, { t: "/" }, { t: "ϵ", it: true }, { t: "0", sub: true }]}
            fs={16}
            x={LEFTS[i] + PW / 2}
            y={420}
            textAnchor="middle"
          />
        </g>
      ))}
      {LEGEND_X.map((lx, i) => (
        <g key={"lg" + i}>
          <line x1={lx} x2={lx + 20} y1={458} y2={458} stroke={COLORS[i]} strokeWidth={1.5} />
          <Rich fs={16.5} x={lx + 28} y={464} segs={legendSegs(i)} />
        </g>
      ))}
    </svg>
  );
}
